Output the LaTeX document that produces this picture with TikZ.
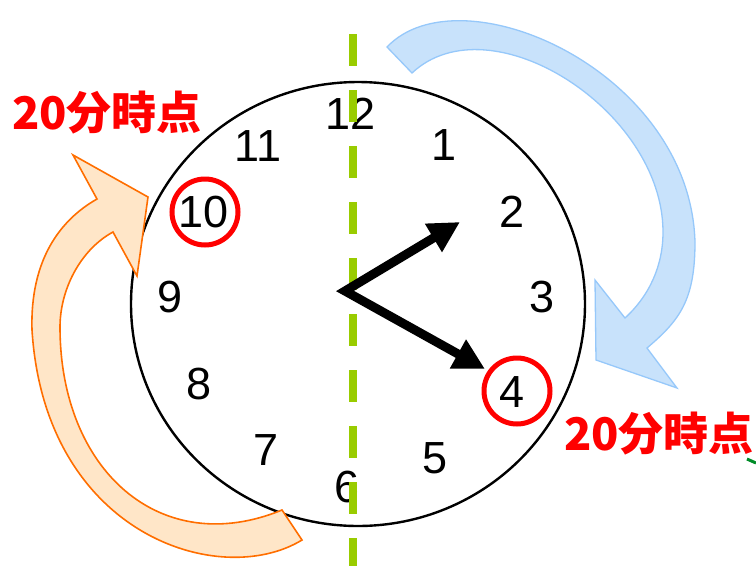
\documentclass[tikz,border=0pt]{standalone}
\usepackage{fontspec}
\setmainfont{Liberation Sans}
\newfontfamily\cjk{Noto Sans CJK JP}
\usetikzlibrary{arrows.meta,shapes.geometric}
\definecolor{dashgreen}{RGB}{153,204,0}
\definecolor{bluefill}{RGB}{200,226,251}
\definecolor{blueline}{RGB}{150,200,250}
\definecolor{orangefill}{RGB}{255,230,200}
\definecolor{orangeline}{RGB}{255,110,0}
\definecolor{fraggreen}{RGB}{0,140,40}
\begin{document}
\begin{tikzpicture}[x=1pt,y=-1pt,
  num/.style={font=\fontsize{45}{45}\selectfont, inner sep=0pt},
  lbl/.style={font=\cjk\bfseries\fontsize{45}{45}\selectfont, text=red, inner sep=0pt},
  ring/.style={draw=red, line width=5pt, circle, minimum size=66pt, inner sep=0pt},
  hand/.style={line width=9pt, line join=miter, {Triangle[length=31pt,width=31pt]}-{Triangle[length=31pt,width=31pt]}},
  bluearrow/.style={fill=bluefill, draw=blueline, line width=1.3pt, line join=miter},
  orangearrow/.style={fill=orangefill, draw=orangeline, line width=1.6pt, line join=miter}]
\useasboundingbox (0,0) rectangle (756,566);
% blue arrow
\path[bluearrow] (387,47) .. controls (460,-30) and (690,70) .. (695,242)
  .. controls (695,300) and (680,320) .. (647,348)
  -- (677,388) -- (596,360) -- (595,280) -- (625,318)
  .. controls (650,295) and (663,265) .. (663,232)
  .. controls (663,110) and (490,0) .. (412,73) -- cycle;
% clock
\node[draw, line width=2.4pt, fill=white, ellipse, minimum width=454pt, minimum height=444pt, inner sep=0pt] (clock) at (358,304) {};
\node[num] (n12) at (351,114) {12};
\node[num] (n1) at (444,145) {1};
\node[num] (n2) at (512,212) {2};
\node[num] (n3) at (542,297) {3};
\node[num] (n4) at (512,392) {4};
\node[num] (n5) at (435,458) {5};
\node[num] (n6) at (347,487) {6};
\node[num] (n7) at (266,450) {7};
\node[num] (n8) at (199,384) {8};
\node[num] (n9) at (170,297) {9};
\node[num] (n10) at (204,212) {10};
\node[num] (n11) at (258,146) {11};
\node[ring] (r10) at (205,212) {};
\node[ring] (r4) at (517,391) {};
% dashed line
\coordinate (dtop) at (353,34);
\coordinate (dbot) at (353,566);
\draw[dashgreen, line width=8pt, dash pattern=on 32pt off 24pt] (dtop) -- (dbot);
% hands
\coordinate (pivot) at (345,291);
\coordinate (hourtip) at (460,222);
\coordinate (mintip) at (485,369);
\draw[hand] (hourtip) -- (pivot) -- (mintip);
% orange arrow
\path[orangearrow] (302,540) .. controls (220,590) and (45,535) .. (32,330)
  .. controls (30,260) and (60,220) .. (97,199)
  -- (73,155) -- (148,197) -- (137,276) -- (113,232)
  .. controls (80,250) and (60,290) .. (60,327)
  .. controls (60,470) and (160,560) .. (282,510) -- cycle;
% labels
\node[lbl] (lab1) at (107,113) {20分時点};
\node[lbl] (lab2) at (659,434) {20分時点};
\draw[fraggreen, line width=3pt] (747,459) -- (756,463);
\end{tikzpicture}
\end{document}
